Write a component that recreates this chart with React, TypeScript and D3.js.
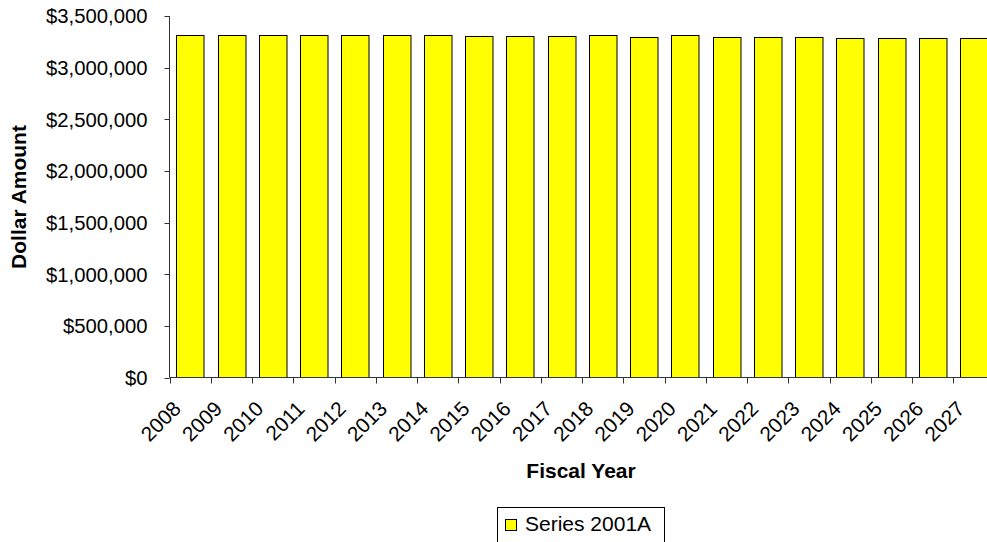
import React, { useEffect, useRef } from 'react';
import * as d3 from 'd3';

const years = [
  '2008', '2009', '2010', '2011', '2012', '2013', '2014', '2015', '2016', '2017',
  '2018', '2019', '2020', '2021', '2022', '2023', '2024', '2025', '2026', '2027',
];

const series2001A = [
  3320000, 3320000, 3320000, 3320000, 3320000, 3320000, 3320000, 3310000, 3310000, 3310000,
  3313000, 3297000, 3313000, 3297000, 3297000, 3297000, 3284000, 3284000, 3284000, 3284000,
];

const yTicks = [0, 500000, 1000000, 1500000, 2000000, 2500000, 3000000, 3500000];

const seriesName = 'Series 2001A';

const App: React.FC = () => {
  const svgRef = useRef<SVGSVGElement>(null);
  const width = 987;
  const height = 542;

  useEffect(() => {
    if (!svgRef.current) return;
    const svg = d3.select(svgRef.current);
    svg.selectAll('*').remove();

    const left = 169.5;
    const top = 16;
    const bottom = 377.5;
    const step = 41.25;

    const x = d3
      .scaleBand<string>()
      .domain(years)
      .range([left, left + step * years.length])
      .paddingInner(1 / 3)
      .paddingOuter(1 / 6);

    const y = d3.scaleLinear().domain([0, 3500000]).range([bottom, top]);

    const fmt = d3.format('$,');
    const font = 'Liberation Sans, Arial, sans-serif';

    // bars
    svg
      .append('g')
      .selectAll('rect')
      .data(series2001A)
      .enter()
      .append('rect')
      .attr('x', (d, i) => Math.round(x(years[i])!) + 0.5)
      .attr('y', d => Math.round(y(d)) + 0.5)
      .attr('width', x.bandwidth())
      .attr('height', d => bottom - Math.round(y(d)) - 0.5)
      .attr('fill', '#ffff00')
      .attr('stroke', '#000')
      .attr('stroke-width', 1);

    // y axis
    const yAxis = svg.append('g');
    yAxis
      .append('line')
      .attr('x1', left)
      .attr('x2', left)
      .attr('y1', top)
      .attr('y2', bottom)
      .attr('stroke', '#333');
    yAxis
      .selectAll('line.tick')
      .data(yTicks)
      .enter()
      .append('line')
      .attr('class', 'tick')
      .attr('x1', left - 5)
      .attr('x2', left)
      .attr('y1', d => Math.round(y(d)) + 0.5)
      .attr('y2', d => Math.round(y(d)) + 0.5)
      .attr('stroke', '#333');
    yAxis
      .selectAll('text')
      .data(yTicks)
      .enter()
      .append('text')
      .attr('x', 147.5)
      .attr('y', d => y(d))
      .attr('dy', '0.36em')
      .attr('text-anchor', 'end')
      .style('font-family', font)
      .style('font-size', '20.3px')
      .attr('fill', '#000')
      .text(d => fmt(d));

    // x axis
    const xAxis = svg.append('g');
    xAxis
      .append('line')
      .attr('x1', left)
      .attr('x2', left + step * years.length)
      .attr('y1', bottom)
      .attr('y2', bottom)
      .attr('stroke', '#333');
    xAxis
      .selectAll('line.tick')
      .data(d3.range(years.length + 1))
      .enter()
      .append('line')
      .attr('class', 'tick')
      .attr('x1', i => Math.round(left + i * step) + 0.5)
      .attr('x2', i => Math.round(left + i * step) + 0.5)
      .attr('y1', bottom)
      .attr('y2', bottom + 6)
      .attr('stroke', '#333');
    xAxis
      .selectAll('text')
      .data(years)
      .enter()
      .append('text')
      .attr('transform', d => `translate(${x(d)! + x.bandwidth() / 2 - 8},410) rotate(-45)`)
      .attr('text-anchor', 'end')
      .style('font-family', font)
      .style('font-size', '20.8px')
      .attr('fill', '#000')
      .text(d => d);

    // axis titles
    svg
      .append('text')
      .attr('transform', 'translate(26,197) rotate(-90)')
      .attr('text-anchor', 'middle')
      .style('font-family', font)
      .style('font-size', '21px')
      .style('font-weight', 'bold')
      .text('Dollar Amount');

    svg
      .append('text')
      .attr('x', 581)
      .attr('y', 478)
      .attr('text-anchor', 'middle')
      .style('font-family', font)
      .style('font-size', '21px')
      .style('font-weight', 'bold')
      .text('Fiscal Year');

    // legend
    const legend = svg.append('g');
    legend
      .append('rect')
      .attr('x', 497.5)
      .attr('y', 507.5)
      .attr('width', 167)
      .attr('height', 40)
      .attr('fill', '#fff')
      .attr('stroke', '#000');
    legend
      .append('rect')
      .attr('x', 505.5)
      .attr('y', 519.5)
      .attr('width', 11)
      .attr('height', 11)
      .attr('fill', '#ffff00')
      .attr('stroke', '#000');
    legend
      .append('text')
      .attr('x', 525)
      .attr('y', 531)
      .style('font-family', font)
      .style('font-size', '21px')
      .text(seriesName);
  }, []);

  return (
    <svg
      ref={svgRef}
      width={width}
      height={height}
      style={{ position: 'absolute', left: 0, top: 0, background: '#fff' }}
    ></svg>
  );
};

export default App;
